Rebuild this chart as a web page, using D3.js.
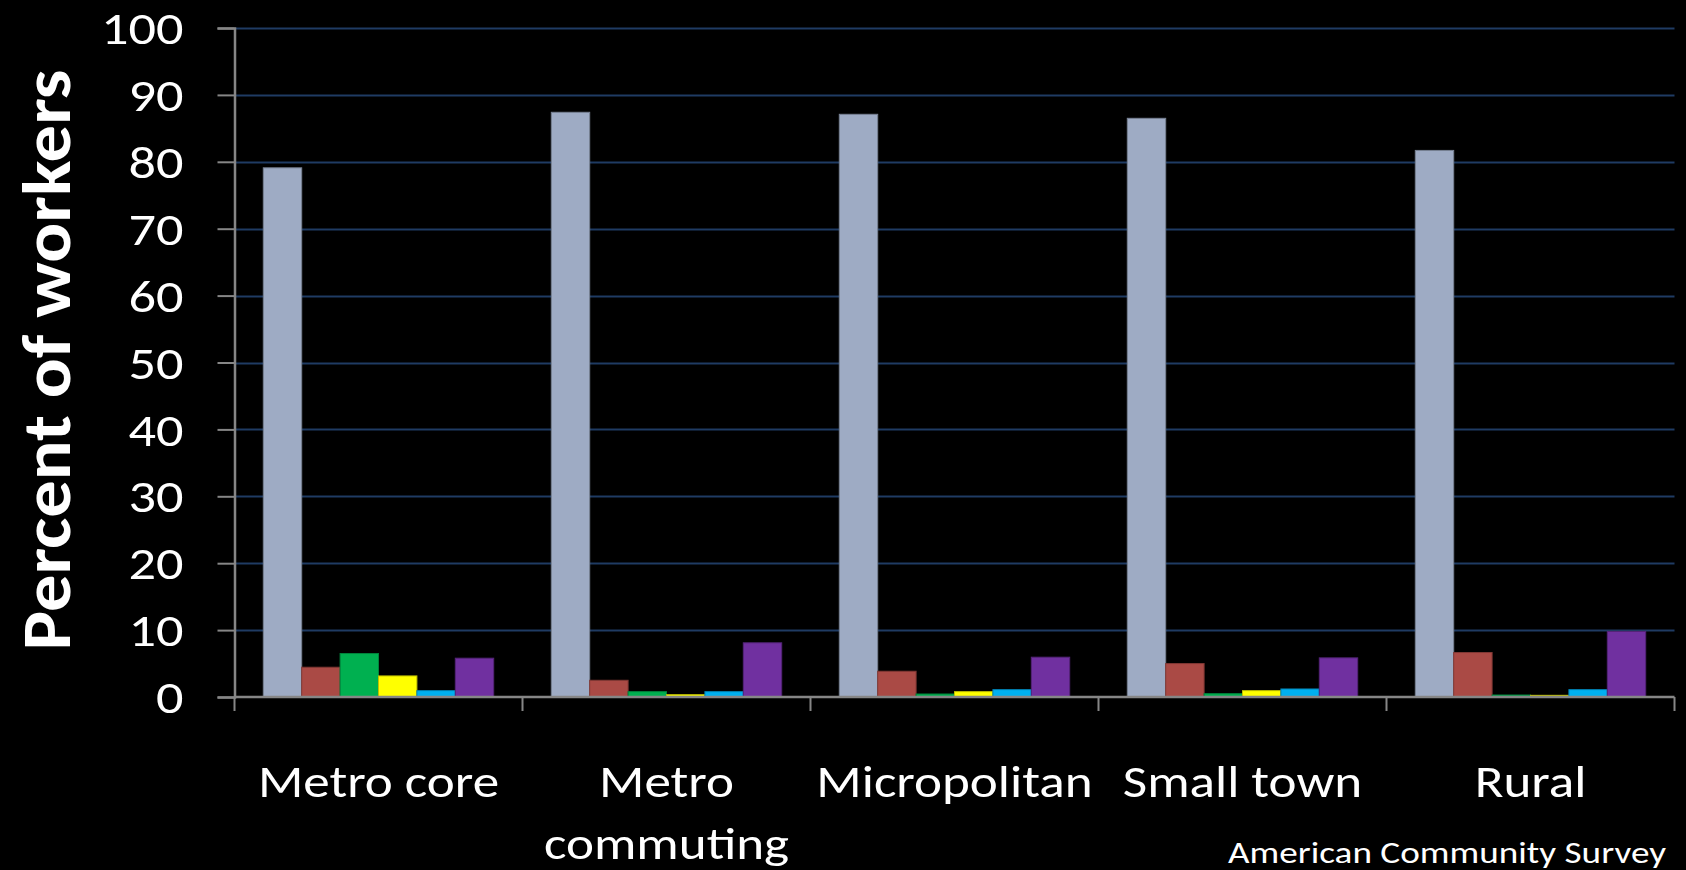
<!DOCTYPE html>
<html>
<head>
<meta charset="utf-8">
<script src="https://cdn.jsdelivr.net/npm/d3@7/dist/d3.min.js"></script>
<style>
  html, body { margin: 0; padding: 0; background: #000; }
  svg { display: block; }
  text { font-family: Carlito, Calibri, Lato, "Open Sans", sans-serif; fill: #fff; }
</style>
</head>
<body>
<svg id="chart" width="1686" height="870"></svg>
<script>
// Commute mode shares by settlement type
const categories = ["Metro core", "Metro commuting", "Micropolitan", "Small town", "Rural"];
const seriesNames = ["Drove alone", "Carpooled", "Public transit", "Walked", "Other", "Worked at home"];
const seriesColors = ["#9eabc4", "#aa4a45", "#00b050", "#ffff00", "#00b0f0", "#7030a0"];
const droveAlone    = [79.1, 87.4, 87.1, 86.5, 81.7];
const carpooled     = [4.45, 2.5, 3.85, 5.0, 6.65];
const publicTransit = [6.5, 0.8, 0.45, 0.5, 0.3];
const walked        = [3.15, 0.35, 0.8, 0.95, 0.25];
const other         = [0.95, 0.8, 1.1, 1.2, 1.1];
const workedAtHome  = [5.8, 8.1, 5.95, 5.85, 9.8];
const yTicks = [0, 10, 20, 30, 40, 50, 60, 70, 80, 90, 100];
const yTitle = "Percent of workers";
const sourceNote = "American Community Survey";

const seriesValues = [droveAlone, carpooled, publicTransit, walked, other, workedAtHome];

const svg = d3.select("#chart");
const margin = { left: 234.5, right: 1674.5, top: 28, bottom: 697 };
const stretch = 1.18; // horizontal widening of the slide typeface

const y = d3.scaleLinear().domain([0, 100]).range([margin.bottom, margin.top]);
const x0 = d3.scaleBand().domain(categories).range([margin.left, margin.right]).padding(0);
const bw = x0.bandwidth() / (seriesNames.length + 1.5);
const x1 = d3.scaleBand().domain(d3.range(seriesNames.length))
  .range([0.75 * bw, x0.bandwidth() - 0.75 * bw]).padding(0);

// gridlines
svg.append("g")
  .selectAll("line")
  .data(yTicks.filter(t => t > 0))
  .join("line")
  .attr("x1", margin.left).attr("x2", margin.right)
  .attr("y1", d => Math.round(y(d)) + 0.5).attr("y2", d => Math.round(y(d)) + 0.5)
  .attr("stroke", "#1f3b63").attr("stroke-width", 2);

// bars
const groups = svg.append("g")
  .selectAll("g")
  .data(categories)
  .join("g")
  .attr("transform", d => `translate(${x0(d)},0)`);

groups.selectAll("rect")
  .data((c, ci) => seriesValues.map((vals, si) => ({ si, v: vals[ci] })))
  .join("rect")
  .attr("x", d => x1(d.si))
  .attr("width", x1.bandwidth())
  .attr("y", d => y(d.v))
  .attr("height", d => y(0) - y(d.v))
  .attr("fill", d => seriesColors[d.si])
  .attr("stroke", d => d3.color(seriesColors[d.si]).darker(0.8))
  .attr("stroke-width", 1);

// y axis
const yAxis = svg.append("g")
  .attr("transform", `translate(${margin.left},0)`)
  .call(d3.axisLeft(y).tickValues(yTicks).tickSize(17).tickPadding(34).tickFormat(d3.format("d")));
yAxis.select(".domain").attr("stroke", "#868686").attr("stroke-width", 2.5);
yAxis.selectAll(".tick line").attr("stroke", "#868686").attr("stroke-width", 2);
yAxis.selectAll(".tick text")
  .attr("fill", "#fff")
  .style("font-size", "46px")
  .attr("dy", "0.34em")
  .each(function () {
    const t = d3.select(this);
    const tx = +t.attr("x");
    t.attr("x", 0).attr("transform", `translate(${tx},0) scale(${stretch},1)`);
  });

// x axis with ticks on category boundaries
const xAxisG = svg.append("g").attr("transform", `translate(0,${margin.bottom})`);
xAxisG.append("line")
  .attr("x1", margin.left).attr("x2", margin.right)
  .attr("stroke", "#868686").attr("stroke-width", 2.5);
const boundaries = categories.map(c => x0(c)).concat([x0(categories[categories.length - 1]) + x0.bandwidth()]);
xAxisG.selectAll("line.tick")
  .data(boundaries)
  .join("line")
  .attr("class", "tick")
  .attr("x1", d => d).attr("x2", d => d)
  .attr("y1", 0).attr("y2", 14)
  .attr("stroke", "#868686").attr("stroke-width", 2);

// category labels, wrapped to band width
const labelSize = 45;
const labelBase = 797;
const lineStep = 62;
categories.forEach(c => {
  const cx = x0(c) + x0.bandwidth() / 2;
  const t = svg.append("text")
    .attr("transform", `translate(${cx},${labelBase}) scale(${stretch},1)`)
    .attr("text-anchor", "middle")
    .style("font-size", labelSize + "px");
  t.text(c);
  const words = c.split(" ");
  if (t.node().getComputedTextLength() * stretch > x0.bandwidth() && words.length > 1) {
    t.text(null);
    words.forEach((w, i) => {
      t.append("tspan").attr("x", 0).attr("y", i * lineStep).text(w);
    });
  }
});

// y title
svg.append("text")
  .attr("transform", `translate(70,360) rotate(-90)`)
  .attr("text-anchor", "middle")
  .attr("textLength", 581)
  .attr("lengthAdjust", "spacingAndGlyphs")
  .style("font-size", "68px")
  .style("font-weight", "bold")
  .text(yTitle);

// source note
svg.append("text")
  .attr("transform", `translate(1666,863) scale(1.24,1)`)
  .attr("text-anchor", "end")
  .style("font-size", "30px")
  .text(sourceNote);
</script>
</body>
</html>
